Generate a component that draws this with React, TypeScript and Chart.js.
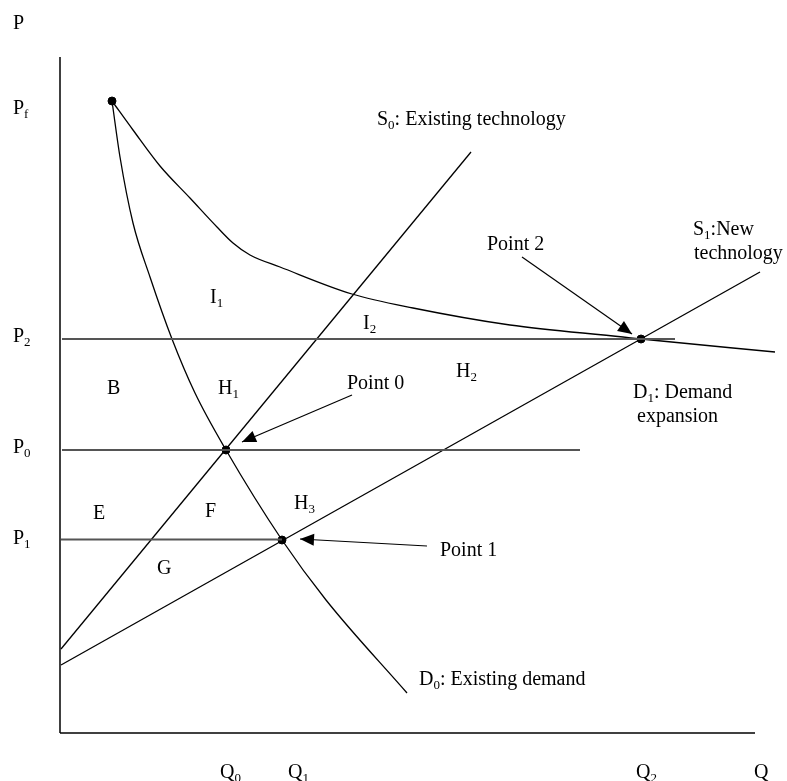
import React, { useEffect, useRef } from "react";
import { Chart, registerables } from "chart.js";

Chart.register(...registerables);

// ---- Data (Q = quantity units, P = price units) ----
const axisY: number[][] = [[-0.1, 0], [-0.1, 67.6]];
const axisX: number[][] = [[-0.1, 0], [69.4, 0]];

const priceP2Line: number[][] = [[0.1, 39.4], [61.4, 39.4]];
const priceP0Line: number[][] = [[0.1, 28.3], [51.9, 28.3]];
const priceP1Line: number[][] = [[0, 19.35], [22.1, 19.35]];

const supplyS0: number[][] = [[0, 8.4], [41.0, 58.1]];
const supplyS1: number[][] = [[0, 6.8], [69.9, 46.1]];

const demandD0: number[][] = [
  [5.1, 63.2], [5.9, 57.6], [7.2, 51.0], [8.9, 45.6], [11.1, 39.4],
  [13.4, 34.0], [16.5, 28.3], [22.1, 19.3], [26.5, 13.3], [34.6, 4.0],
];

const demandD1: number[][] = [
  [5.1, 63.2], [7.2, 60.3], [9.9, 56.7], [12.9, 53.5], [15.6, 50.6],
  [17.2, 49.0], [18.9, 47.8], [21.9, 46.6], [29.1, 43.9], [35.2, 42.5],
  [44.9, 40.8], [56.2, 39.6], [58.0, 39.4], [71.4, 38.1],
];

const keyPoints: number[][] = [[5.1, 63.2], [16.5, 28.3], [22.1, 19.3], [58.0, 39.4]];

// arrows: [fromQ, fromP, toQ, toP]
const arrows: number[][] = [
  [29.1, 33.8, 18.1, 29.1],
  [36.6, 18.7, 23.9, 19.4],
  [46.1, 47.6, 57.1, 39.9],
];

// text labels: [text, Q (left), P (baseline)]  ("_x" = subscript x)
const labels: [string, number, number][] = [
  ["P", -4.8, 70.4],
  ["P_f", -4.8, 61.9],
  ["P_2", -4.8, 39.1],
  ["P_0", -4.8, 28.0],
  ["P_1", -4.8, 18.9],
  ["Q_0", 15.9, -4.5],
  ["Q_1", 22.7, -4.5],
  ["Q_2", 57.5, -4.5],
  ["Q", 69.3, -4.5],
  ["S_0: Existing technology", 31.6, 60.8],
  ["S_1:New", 63.2, 49.8],
  ["technology", 63.3, 47.4],
  ["Point 2", 42.6, 48.3],
  ["Point 0", 28.6, 34.4],
  ["Point 1", 37.9, 17.7],
  ["D_0: Existing demand", 35.8, 4.8],
  ["D_1: Demand", 57.2, 33.5],
  ["expansion", 57.6, 31.1],
  ["I_1", 14.9, 43.0],
  ["I_2", 30.2, 40.4],
  ["H_1", 15.7, 33.9],
  ["H_2", 39.5, 35.6],
  ["B", 4.6, 33.9],
  ["E", 3.2, 21.4],
  ["F", 14.4, 21.6],
  ["H_3", 23.3, 22.4],
  ["G", 9.6, 15.9],
];

const toPts = (arr: number[][]) => arr.map(([x, y]) => ({ x, y }));

const FONT = "'Liberation Serif', 'Times New Roman', serif";

const overlayPlugin = {
  id: "overlay",
  afterDatasetsDraw(chart: any) {
    const ctx: CanvasRenderingContext2D = chart.ctx;
    const xs = chart.scales.x;
    const ys = chart.scales.y;
    const px = (v: number) => xs.getPixelForValue(v);
    const py = (v: number) => ys.getPixelForValue(v);
    ctx.save();
    // arrowheads
    ctx.fillStyle = "#000";
    arrows.forEach(([fx, fy, tx, ty]) => {
      const x1 = px(fx), y1 = py(fy), x2 = px(tx), y2 = py(ty);
      const a = Math.atan2(y2 - y1, x2 - x1);
      const len = 14, hw = 6;
      const bx = x2 - len * Math.cos(a), by = y2 - len * Math.sin(a);
      ctx.beginPath();
      ctx.moveTo(x2, y2);
      ctx.lineTo(bx + hw * Math.sin(a), by - hw * Math.cos(a));
      ctx.lineTo(bx - hw * Math.sin(a), by + hw * Math.cos(a));
      ctx.closePath();
      ctx.fill();
    });
    // labels
    ctx.textBaseline = "alphabetic";
    ctx.textAlign = "left";
    labels.forEach(([text, lx, ly]) => {
      let x = px(lx);
      const y = py(ly);
      let i = 0;
      while (i < text.length) {
        if (text[i] === "_" && i + 1 < text.length) {
          ctx.font = `13px ${FONT}`;
          const ch = text[i + 1];
          ctx.fillText(ch, x, y + 4);
          x += ctx.measureText(ch).width;
          i += 2;
        } else {
          let j = i;
          while (j < text.length && text[j] !== "_") j++;
          const seg = text.slice(i, j);
          ctx.font = `20px ${FONT}`;
          ctx.fillText(seg, x, y);
          x += ctx.measureText(seg).width;
          i = j;
        }
      }
    });
    ctx.restore();
  },
};

function lineDs(data: number[][], color: string, width: number, curve = false) {
  return {
    data: toPts(data),
    borderColor: color,
    backgroundColor: color,
    borderWidth: width,
    pointRadius: 0,
    fill: false,
    showLine: true,
    tension: 0,
    cubicInterpolationMode: curve ? ("monotone" as const) : ("default" as const),
    clip: false as const,
  };
}

export default function App() {
  const ref = useRef<HTMLCanvasElement | null>(null);
  useEffect(() => {
    if (!ref.current) return;
    const arrowShafts = arrows.map(([fx, fy, tx, ty]) =>
      lineDs([[fx, fy], [tx, ty]], "#000", 1.2)
    );
    const chart = new Chart(ref.current, {
      type: "line",
      data: {
        datasets: [
          lineDs(axisY, "#000", 1.5),
          lineDs(axisX, "#000", 1.5),
          lineDs(priceP2Line, "#555", 2),
          lineDs(priceP0Line, "#555", 1.8),
          lineDs(priceP1Line, "#555", 1.8),
          lineDs(supplyS0, "#000", 1.3),
          lineDs(supplyS1, "#000", 1.3),
          lineDs(demandD0, "#000", 1.3, true),
          lineDs(demandD1, "#000", 1.3, true),
          ...arrowShafts,
          {
            data: toPts(keyPoints),
            showLine: false,
            pointRadius: 4,
            pointBackgroundColor: "#000",
            pointBorderColor: "#000",
            borderColor: "#000",
            clip: false as const,
          },
        ] as any,
      },
      options: {
        responsive: false,
        animation: false,
        events: [],
        parsing: false as any,
        layout: { padding: { left: 61, top: 58, right: 26, bottom: 48 } },
        plugins: { legend: { display: false }, tooltip: { enabled: false } },
        scales: {
          x: { type: "linear", min: 0, max: 70, display: false },
          y: { type: "linear", min: 0, max: 67.5, display: false },
        },
      },
      plugins: [overlayPlugin],
    });
    return () => chart.destroy();
  }, []);
  return (
    <canvas
      ref={ref}
      width={787}
      height={781}
      style={{ display: "block", position: "absolute", left: 0, top: 0, background: "#fff" }}
    />
  );
}
